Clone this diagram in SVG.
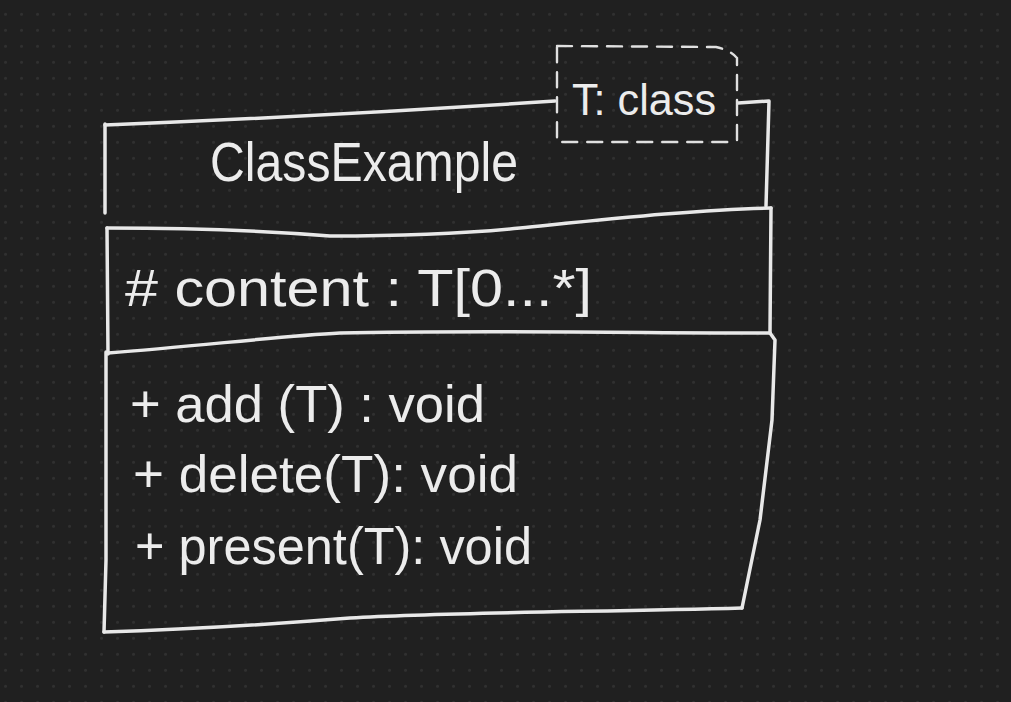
<svg xmlns="http://www.w3.org/2000/svg" width="1011" height="702" viewBox="0 0 1011 702">
  <defs>
    <pattern id="dots" x="0" y="0" width="16" height="16" patternUnits="userSpaceOnUse">
      <circle cx="5.5" cy="14.3" r="1.5" fill="#303030"/>
    </pattern>
    <style>
      .ink { fill: none; stroke: #e8e8e8; stroke-width: 3.5; stroke-linecap: round; stroke-linejoin: round; }
      .dash { fill: none; stroke: #e0e0e0; stroke-width: 2.4; stroke-dasharray: 15 10; stroke-linecap: round; }
      .txt { fill: #ececec; font-family: "Liberation Sans", "DejaVu Sans", sans-serif; }
    </style>
  </defs>
  <rect width="1011" height="702" fill="#202020"/>
  <rect width="1011" height="702" fill="url(#dots)"/>

  <g id="class-ClassExample">
    <!-- header compartment -->
    <path class="ink" d="M105,125 Q330,116 555,101"/>
    <path class="ink" d="M105,124 L105,213"/>
    <path class="ink" d="M738,103 L769,101 L766,206"/>
    <text class="txt" x="210" y="181" font-size="56" textLength="308" lengthAdjust="spacingAndGlyphs">ClassExample</text>
    <!-- attributes compartment -->
    <path class="ink" d="M107,228 C200,228 280,232 330,236 C420,236 480,232 520,228 C600,220 700,209 771,208"/>
    <path class="ink" d="M107,228 L108,354"/>
    <path class="ink" d="M771,208 L770,333"/>
    <path class="ink" d="M108,353 C200,346 280,336 340,333 C480,330 650,333 770,333"/>
    <text class="txt" x="125" y="306" font-size="52" textLength="467" lengthAdjust="spacingAndGlyphs"># content : T[0...*]</text>
    <!-- operations compartment -->
    <path class="ink" d="M770,333 L775,340 L772,420 L760,520 L742,608"/>
    <path class="ink" d="M106,352 L106,560 L104,632"/>
    <path class="ink" d="M742,608 C600,612 450,612 350,618 C250,626 170,630 104,632"/>
    <text class="txt" x="130" y="422" font-size="52" textLength="355" lengthAdjust="spacingAndGlyphs">+ add (T) : void</text>
    <text class="txt" x="133" y="492" font-size="52" textLength="385" lengthAdjust="spacingAndGlyphs">+ delete(T): void</text>
    <text class="txt" x="135" y="564" font-size="52" textLength="397" lengthAdjust="spacingAndGlyphs">+ present(T): void</text>
  </g>

  <g id="template-param">
    <path class="dash" d="M557,46 L716,47 Q730,50 737,58 L737,140 Q732,142 728,142 L557,142 Z"/>
    <text class="txt" x="572" y="115" font-size="44" textLength="144" lengthAdjust="spacingAndGlyphs">T: class</text>
  </g>

  <g id="connectors"></g>
</svg>
